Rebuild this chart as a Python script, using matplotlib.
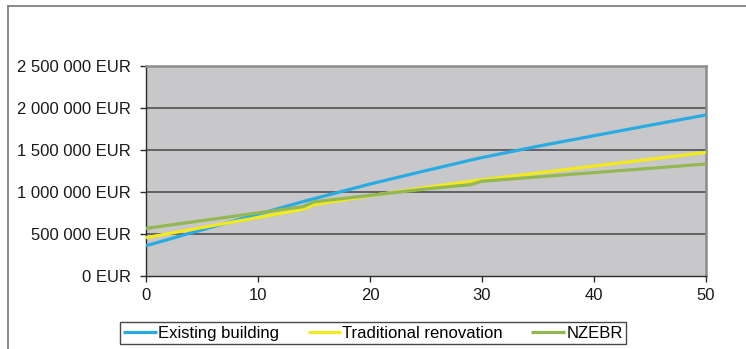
import matplotlib
matplotlib.use("Agg")
import matplotlib.pyplot as plt
from matplotlib.lines import Line2D

plt.rcParams["font.family"] = ["Liberation Sans", "DejaVu Sans"]

# Cumulative life-cycle cost over 50 years (EUR)
years = [0, 5, 10, 14, 15, 20, 25, 29, 30, 35, 40, 45, 50]
existing_building = [360000, 550000, 735000, 885000, 920000, 1095000, 1255000,
                     1380000, 1410000, 1545000, 1670000, 1795000, 1917000]
traditional_renovation = [456000, 577000, 697000, 794000, 850000, 955000, 1055000,
                          1128000, 1145000, 1227000, 1309000, 1390000, 1472000]
nzebr = [567000, 659000, 751000, 825000, 883000, 960000, 1036000,
         1088000, 1128000, 1180000, 1231000, 1282000, 1333000]

series_names = ["Existing building", "Traditional renovation", "NZEBR"]
series_colors = ["#29ABE2", "#F2EA1C", "#93B853"]

y_ticks = [0, 500000, 1000000, 1500000, 2000000, 2500000]
y_tick_labels = ["0 EUR", "500 000 EUR", "1 000 000 EUR", "1 500 000 EUR",
                 "2 000 000 EUR", "2 500 000 EUR"]
x_ticks = [0, 10, 20, 30, 40, 50]

W, H = 746, 349
fig = plt.figure(figsize=(W / 100, H / 100), dpi=100)
ax = fig.add_axes([146 / W, 1 - 276 / H, (706 - 146) / W, (276 - 66) / H])
ax.set_facecolor("#C8C8CA")

for vals, name, col in zip([existing_building, traditional_renovation, nzebr],
                           series_names, series_colors):
    ax.plot(years, vals, color=col, lw=2.3, label=name, solid_capstyle="butt",
            zorder=3)

ax.set_xlim(0, 50)
ax.set_ylim(0, 2500000)
ax.set_xticks(x_ticks)
ax.set_yticks(y_ticks)
ax.set_yticklabels(y_tick_labels)

for yv in y_ticks[1:-1]:
    ax.axhline(yv, color="#505050", lw=1.2, zorder=1)

for side in ["top", "right"]:
    ax.spines[side].set_color("#8C8C8C")
    ax.spines[side].set_linewidth(1.8)
for side in ["left", "bottom"]:
    ax.spines[side].set_color("#2A2A2A")
    ax.spines[side].set_linewidth(1.0)

ax.tick_params(axis="both", direction="out", length=4, width=1.0,
               color="#2A2A2A", labelsize=12, labelcolor="#1A1A1A")
ax.tick_params(axis="y", pad=7)
ax.tick_params(axis="x", pad=5)

# Outer chart frame
fig.add_artist(Line2D([7.5 / W, 7.5 / W], [0, 1 - 6 / H], transform=fig.transFigure,
                      color="#808080", lw=1.3))
fig.add_artist(Line2D([7.5 / W, 1], [1 - 6 / H, 1 - 6 / H], transform=fig.transFigure,
                      color="#808080", lw=1.3))

leg = fig.legend(loc="lower center", bbox_to_anchor=(0.5, 5 / H), ncol=3,
                 fontsize=12, frameon=True, fancybox=False, handlelength=2.0,
                 handletextpad=0.1, columnspacing=1.7, borderpad=0.2,
                 borderaxespad=0)
leg.get_frame().set_edgecolor("#1A1A1A")
leg.get_frame().set_linewidth(1.0)
for line in leg.get_lines():
    line.set_linewidth(2.3)

fig.savefig("out.png", dpi=100)
